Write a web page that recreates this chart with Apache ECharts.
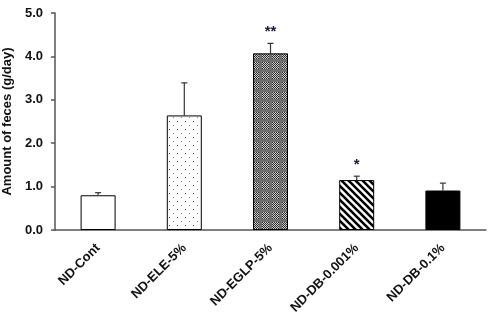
<!DOCTYPE html>
<html>
<head>
<meta charset="utf-8">
<script src="https://cdn.jsdelivr.net/npm/echarts@6/dist/echarts.min.js"></script>
<style>
  html, body { margin: 0; padding: 0; background: #fff; }
  #chart { width: 500px; height: 323px; }
</style>
</head>
<body>
<div id="chart"></div>
<script>
// Daily feces output per diet group
var groups = ['ND-Cont', 'ND-ELE-5%', 'ND-EGLP-5%', 'ND-DB-0.001%', 'ND-DB-0.1%'];
var means = [0.80, 2.64, 4.07, 1.15, 0.91];
var errors = [0.06, 0.75, 0.23, 0.09, 0.17];
var marks = ['', '', '**', '*', ''];
var yTicks = [0, 1, 2, 3, 4, 5];

// Fill patterns drawn on small canvas tiles
function tile(w, h, draw) {
  var c = document.createElement('canvas');
  c.width = w; c.height = h;
  draw(c.getContext('2d'));
  return c;
}
var dots = tile(8, 8, function (g) {
  g.fillStyle = '#fff'; g.fillRect(0, 0, 8, 8);
  g.fillStyle = '#444';
  g.fillRect(1, 1, 1, 1);
  g.fillStyle = '#888';
  g.fillRect(5, 5, 1, 1);
});
var checker = tile(10, 10, function (g) {
  g.fillStyle = '#6f6f6f'; g.fillRect(0, 0, 10, 10);
  for (var i = 0; i < 7; i++) {
    for (var j = 0; j < 7; j++) {
      g.fillStyle = ((i + j) % 2) ? '#cfcfcf' : '#2a2a2a';
      g.fillRect(2 + i, 2 + j, 1, 1);
    }
  }
});
var stripes = tile(7, 7, function (g) {
  g.fillStyle = '#fff'; g.fillRect(0, 0, 7, 7);
  g.strokeStyle = '#000'; g.lineWidth = 2.6;
  g.beginPath();
  for (var k = -7; k <= 7; k += 7) {
    g.moveTo(k - 1, -1); g.lineTo(k + 8, 8);
  }
  g.stroke();
});
var fills = ['#ffffff',
  { image: dots, repeat: 'repeat' },
  { image: checker, repeat: 'repeat' },
  { image: stripes, repeat: 'repeat' },
  '#000000'];

var chart = echarts.init(document.getElementById('chart'), null, { renderer: 'canvas' });
var font = 'Liberation Sans, Arial, sans-serif';

chart.setOption({
  animation: false,
  grid: { left: 55, right: 14, top: 13, bottom: 93, containLabel: false, outerBoundsMode: 'none' },
  xAxis: {
    type: 'category',
    data: groups,
    axisLine: { lineStyle: { color: '#555', width: 1.5 } },
    axisTick: { show: false },
    axisLabel: {
      rotate: 45, margin: 16, color: '#111',
      fontFamily: font, fontWeight: 'bold', fontSize: 13
    }
  },
  yAxis: {
    type: 'value',
    min: yTicks[0], max: yTicks[yTicks.length - 1], interval: 1,
    name: 'Amount of feces (g/day)',
    nameLocation: 'middle', nameGap: 32,
    nameTextStyle: { fontFamily: font, fontWeight: 'bold', fontSize: 13, color: '#111' },
    splitLine: { show: false },
    axisLine: { show: true, lineStyle: { color: '#555', width: 1.5 } },
    axisTick: { show: true, length: 4, lineStyle: { color: '#555', width: 1.5 } },
    axisLabel: {
      margin: 12, color: '#111', fontFamily: font, fontWeight: 'bold', fontSize: 13,
      formatter: function (v) { return v.toFixed(1); }
    }
  },
  series: [
    {
      type: 'bar',
      barWidth: 35,
      data: means.map(function (v, i) {
        return { value: v, itemStyle: { color: fills[i], borderColor: '#000', borderWidth: 1 } };
      }),
      z: 2
    },
    {
      type: 'custom',
      z: 1,
      data: means.map(function (v, i) { return [i, v, v + errors[i]]; }),
      renderItem: function (params, api) {
        var base = api.coord([api.value(0), api.value(1)]);
        var top = api.coord([api.value(0), api.value(2)]);
        var cap = 3;
        var children = [
          { type: 'line', shape: { x1: base[0], y1: base[1], x2: top[0], y2: top[1] },
            style: { stroke: '#333', lineWidth: 1.2 } },
          { type: 'line', shape: { x1: top[0] - cap, y1: top[1], x2: top[0] + cap, y2: top[1] },
            style: { stroke: '#333', lineWidth: 1.2 } }
        ];
        var m = marks[params.dataIndex];
        if (m) {
          children.push({
            type: 'text',
            style: {
              text: m, x: top[0], y: top[1] - 4,
              textAlign: 'center', textVerticalAlign: 'bottom',
              font: 'bold 15px ' + font, fill: '#1a1a40'
            }
          });
        }
        return { type: 'group', children: children };
      }
    }
  ]
});
</script>
</body>
</html>
